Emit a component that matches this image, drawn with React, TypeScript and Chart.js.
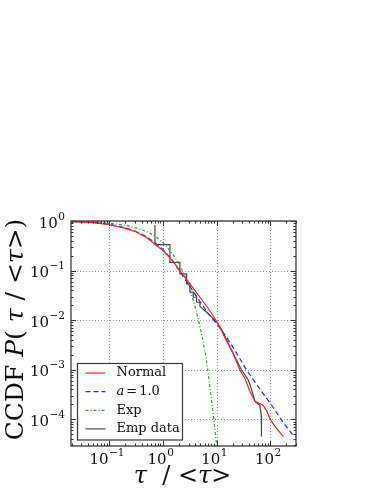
import React, { useEffect, useRef } from 'react';
import { Chart, registerables } from 'chart.js';

Chart.register(...registerables);

// ---- data ----
const normalX = [0.0194, 0.05, 0.1, 0.2, 0.32, 0.5, 0.71, 1.0, 1.5, 2.07, 3.2, 4.9, 7.5, 10.7, 15, 20, 27, 34, 42, 52, 62, 74, 85, 100, 122, 175];
const normalY = [0.97, 0.93, 0.84, 0.71, 0.6, 0.46, 0.34, 0.255, 0.16, 0.1, 0.054, 0.029, 0.0155, 0.0085, 0.004, 0.0022, 0.001, 0.00065, 0.00036, 0.00023, 0.00021, 0.00019, 0.00015, 0.0001, 0.000072, 0.000045];

const a1X = [0.0194, 0.05, 0.1, 0.2, 0.3, 0.5, 0.7, 1.0, 1.5, 2.0, 3.0, 5.0, 7.0, 10, 14, 20, 36, 60, 100, 170, 280];
const a1Y = [0.98, 0.94, 0.86, 0.73, 0.63, 0.48, 0.37, 0.27, 0.16, 0.1, 0.053, 0.023, 0.0135, 0.0085, 0.0052, 0.0029, 0.001, 0.00045, 0.00021, 0.00009, 0.000044];

const expX = [0.0194, 0.05, 0.1, 0.2, 0.3, 0.5, 0.7, 1.0, 1.5, 2.0, 2.5, 3.0, 3.5, 4.0, 4.5, 5.0, 5.5, 6.0, 6.5, 7.0, 7.5, 8.0, 8.5, 9.0, 9.5, 10.0];
const expY = [0.98, 0.95, 0.905, 0.82, 0.74, 0.61, 0.5, 0.37, 0.22, 0.135, 0.082, 0.05, 0.03, 0.018, 0.011, 0.0067, 0.0041, 0.0025, 0.0015, 0.0008, 0.00045, 0.00026, 0.00015, 0.000085, 0.00005, 0.00003];

const empX = [0.71, 0.71, 1.35, 1.35, 2.07, 2.07, 2.76, 2.76, 3.18, 3.18, 3.67, 3.67, 4.24, 4.24, 4.89, 4.89, 6.05, 7.5, 10, 12.4, 15, 20, 29, 39, 45, 52, 64, 68, 68.5];
const empY = [0.83, 0.333, 0.333, 0.147, 0.147, 0.086, 0.086, 0.054, 0.054, 0.037, 0.037, 0.029, 0.029, 0.023, 0.023, 0.019, 0.0155, 0.0125, 0.0092, 0.0065, 0.0042, 0.0022, 0.001, 0.00062, 0.00039, 0.00023, 0.00019, 0.00012, 0.000045];

const seriesLabels = ['Normal', 'a=1.0', 'Exp', 'Emp data'];
const xTickExps = [-1, 0, 1, 2];
const yTickExps = [0, -1, -2, -3, -4];

const X_MIN = 0.0194;
const X_MAX = 301;
const Y_MIN = 2.9e-5;
const Y_MAX = 1;

const SERIF = '"DejaVu Serif", serif';

const toPts = (xs: number[], ys: number[]) => xs.map((x, i) => ({ x, y: ys[i] }));

function supText(e: number) {
  return e < 0 ? '\u2212' + Math.abs(e) : String(e);
}

const decorPlugin = {
  id: 'decor',
  beforeDatasetsDraw(chart: any) {
    const { ctx, chartArea: a, scales } = chart;
    const x = scales.x, y = scales.y;
    ctx.save();
    ctx.strokeStyle = '#9a9a9a';
    ctx.lineWidth = 1;
    ctx.setLineDash([1, 2]);
    for (const e of xTickExps) {
      const px = Math.round(x.getPixelForValue(Math.pow(10, e))) + 0.5;
      ctx.beginPath(); ctx.moveTo(px, a.top); ctx.lineTo(px, a.bottom); ctx.stroke();
    }
    for (const e of yTickExps) {
      const py = Math.round(y.getPixelForValue(Math.pow(10, e))) + 0.5;
      ctx.beginPath(); ctx.moveTo(a.left, py); ctx.lineTo(a.right, py); ctx.stroke();
    }
    ctx.restore();
  },
  afterDraw(chart: any) {
    const { ctx, chartArea: a, scales } = chart;
    const x = scales.x, y = scales.y;
    ctx.save();
    // ticks inside on all sides
    ctx.strokeStyle = '#333';
    ctx.lineWidth = 1;
    const ticksFor = (min: number, max: number) => {
      const out: { v: number; major: boolean }[] = [];
      for (let d = Math.floor(Math.log10(min)); d <= Math.ceil(Math.log10(max)); d++) {
        for (let k = 1; k <= 9; k++) {
          const v = k * Math.pow(10, d);
          if (v >= min * 0.999 && v <= max * 1.001) out.push({ v, major: k === 1 });
        }
      }
      return out;
    };
    for (const t of ticksFor(X_MIN, X_MAX)) {
      const px = Math.round(x.getPixelForValue(t.v)) + 0.5;
      const L = t.major ? 5 : 2.5;
      ctx.beginPath();
      ctx.moveTo(px, a.bottom); ctx.lineTo(px, a.bottom - L);
      ctx.moveTo(px, a.top); ctx.lineTo(px, a.top + L);
      ctx.stroke();
    }
    for (const t of ticksFor(Y_MIN, Y_MAX)) {
      const py = Math.round(y.getPixelForValue(t.v)) + 0.5;
      const L = t.major ? 5 : 2.5;
      ctx.beginPath();
      ctx.moveTo(a.left, py); ctx.lineTo(a.left + L, py);
      ctx.moveTo(a.right, py); ctx.lineTo(a.right - L, py);
      ctx.stroke();
    }
    // spines
    ctx.strokeStyle = '#3a3a3a';
    ctx.lineWidth = 1.3;
    ctx.strokeRect(a.left, a.top, a.right - a.left, a.bottom - a.top);

    // tick labels
    ctx.fillStyle = '#111';
    ctx.textBaseline = 'alphabetic';
    ctx.textAlign = 'left';
    const baseFont = '15px ' + SERIF;
    const expFont = '10.5px ' + SERIF;
    const measure = (e: number) => {
      ctx.font = baseFont;
      const wb = ctx.measureText('10').width;
      ctx.font = expFont;
      const we = ctx.measureText(supText(e)).width;
      return { wb, we };
    };
    const drawPow = (e: number, left: number, base: number) => {
      const { wb } = measure(e);
      ctx.font = baseFont;
      ctx.fillText('10', left, base);
      ctx.font = expFont;
      ctx.fillText(supText(e), left + wb + 0.5, base - 8);
    };
    for (const e of xTickExps) {
      const px = x.getPixelForValue(Math.pow(10, e));
      const { wb, we } = measure(e);
      drawPow(e, px - 2.5 - (wb + we) / 2, a.bottom + 17.5);
    }
    for (const e of yTickExps) {
      const py = y.getPixelForValue(Math.pow(10, e));
      const { wb, we } = measure(e);
      drawPow(e, a.left - 6 - (wb + we + 0.5), py + 6.5);
    }

    // axis titles
    const drawSegs = (segs: [string, string][], cx: number, cy: number, rot: number) => {
      ctx.save();
      ctx.translate(cx, cy);
      ctx.rotate(rot);
      let total = 0;
      for (const [t, f] of segs) { ctx.font = f; total += ctx.measureText(t).width; }
      let cur = -total / 2;
      ctx.textAlign = 'left';
      for (const [t, f] of segs) {
        ctx.font = f;
        ctx.fillText(t, cur, 0);
        cur += ctx.measureText(t).width;
      }
      ctx.restore();
    };
    const yf = '25px ' + SERIF;
    const yfi = 'italic 25px ' + SERIF;
    drawSegs([
      ['CCDF ', yf], ['P', yfi], ['( ', yf], ['\u03c4', yfi], [' / <', yf], ['\u03c4', yfi], ['>)', yf]
    ], 23, (a.top + a.bottom) / 2 - 4, -Math.PI / 2);
    const xf = '24px ' + SERIF;
    const xfi = 'italic 24px ' + SERIF;
    drawSegs([
      ['\u03c4', xfi], ['  / <', xf], ['\u03c4', xfi], ['>', xf]
    ], (a.left + a.right) / 2 - 1, a.bottom + 37, 0);

    // legend
    const lx = a.left + 6.5, ly = a.top + 142.5, lw = 105, lh = 76.5;
    ctx.fillStyle = '#ffffff';
    ctx.fillRect(lx, ly, lw, lh);
    ctx.strokeStyle = '#3a3a3a';
    ctx.lineWidth = 1.2;
    ctx.strokeRect(lx, ly, lw, lh);
    const ds = chart.data.datasets;
    const legFont = '13px ' + SERIF;
    const legFontI = 'italic 13px ' + SERIF;
    for (let i = 0; i < ds.length; i++) {
      const rowY = ly + 9.6 + i * 18.6;
      ctx.strokeStyle = ds[i].borderColor;
      ctx.lineWidth = ds[i].borderWidth;
      ctx.setLineDash(ds[i].borderDash || []);
      ctx.beginPath();
      ctx.moveTo(lx + 8, rowY); ctx.lineTo(lx + 28, rowY);
      ctx.stroke();
      ctx.setLineDash([]);
      ctx.fillStyle = '#111';
      ctx.textBaseline = 'middle';
      const lab: string = ds[i].label;
      let tx = lx + 39;
      if (lab.startsWith('a=')) {
        ctx.font = legFontI;
        ctx.fillText('a', tx, rowY);
        tx += ctx.measureText('a').width + 2;
        ctx.font = legFont;
        ctx.fillText('=', tx, rowY);
        tx += ctx.measureText('=').width + 2;
        ctx.fillText(lab.slice(2), tx, rowY);
      } else {
        ctx.font = legFont;
        ctx.fillText(lab, tx, rowY);
      }
    }
    ctx.restore();
  }
};

export default function App() {
  const ref = useRef<HTMLCanvasElement | null>(null);
  useEffect(() => {
    if (!ref.current) return;
    const chart = new Chart(ref.current, {
      type: 'line',
      data: {
        datasets: [
          { label: seriesLabels[0], data: toPts(normalX, normalY), borderColor: '#ff2020', borderWidth: 1.2, pointRadius: 0, tension: 0, fill: false },
          { label: seriesLabels[1], data: toPts(a1X, a1Y), borderColor: '#2a2aff', borderWidth: 1.2, borderDash: [5, 3], pointRadius: 0, tension: 0, fill: false },
          { label: seriesLabels[2], data: toPts(expX, expY), borderColor: '#3a9a3a', borderWidth: 1.2, borderDash: [3, 2, 1, 2], pointRadius: 0, tension: 0, fill: false },
          { label: seriesLabels[3], data: toPts(empX, empY), borderColor: '#4a4a4a', borderWidth: 1.2, pointRadius: 0, tension: 0, fill: false },
        ] as any,
      },
      options: {
        animation: false,
        responsive: false,
        devicePixelRatio: 1,
        layout: { padding: { left: 71, right: 86, top: 221, bottom: 48 } },
        plugins: { legend: { display: false }, tooltip: { enabled: false } },
        scales: {
          x: { type: 'logarithmic', min: X_MIN, max: X_MAX, display: false },
          y: { type: 'logarithmic', min: Y_MIN, max: Y_MAX, display: false },
        },
      } as any,
      plugins: [decorPlugin],
    });
    return () => chart.destroy();
  }, []);
  return (
    <div style={{ position: 'absolute', left: 0, top: 0, width: 382, height: 494, background: '#fff' }}>
      <canvas ref={ref} width={382} height={494} style={{ display: 'block' }} />
    </div>
  );
}
